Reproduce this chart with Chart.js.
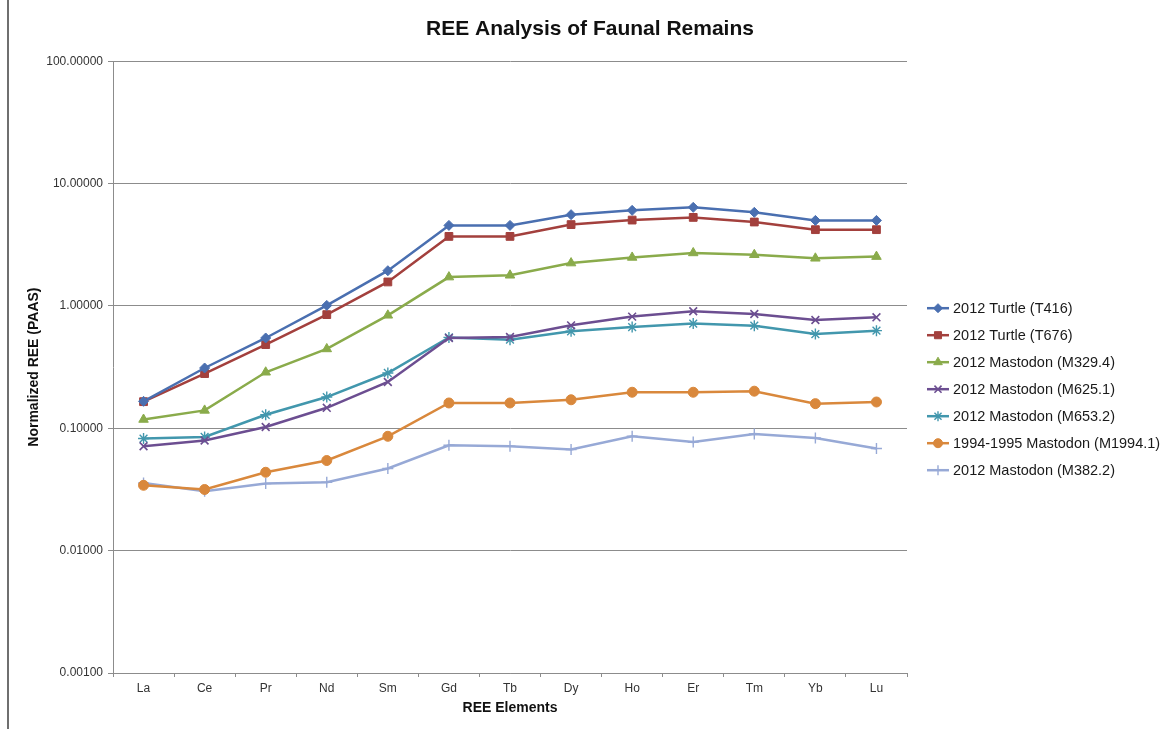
<!DOCTYPE html>
<html>
<head>
<meta charset="utf-8">
<script src="https://cdn.jsdelivr.net/npm/chart.js@4/dist/chart.umd.min.js"></script>
<style>
  html, body { margin: 0; padding: 0; background: #fff; }
  #wrap { position: relative; width: 1168px; height: 729px; }
  #frame { position: absolute; left: 7px; top: 0; width: 2px; height: 729px; background: #6f6f6f; }
</style>
</head>
<body>
<div id="wrap">
  <canvas id="chart" width="1168" height="729"></canvas>
  <div id="frame"></div>
</div>
<script>
// REE elements on the x axis
const elements = ['La', 'Ce', 'Pr', 'Nd', 'Sm', 'Gd', 'Tb', 'Dy', 'Ho', 'Er', 'Tm', 'Yb', 'Lu'];

// decade ticks of the log axis
const yTicks = [0.001, 0.01, 0.1, 1, 10, 100];

// normalized values
const turtleT416    = [0.166, 0.311, 0.547, 1.01, 1.94, 4.55, 4.55, 5.57, 6.04, 6.39, 5.82, 5.00, 5.00];
const turtleT676    = [0.165, 0.280, 0.483, 0.849, 1.57, 3.70, 3.70, 4.62, 5.03, 5.29, 4.85, 4.20, 4.20];
const mastoM3294    = [0.118, 0.140, 0.287, 0.445, 0.838, 1.72, 1.78, 2.24, 2.49, 2.71, 2.62, 2.45, 2.53];
const mastoM6251    = [0.0713, 0.0794, 0.1025, 0.147, 0.239, 0.547, 0.557, 0.694, 0.818, 0.904, 0.859, 0.767, 0.807];
const mastoM6532    = [0.0824, 0.0849, 0.129, 0.180, 0.283, 0.553, 0.530, 0.620, 0.672, 0.717, 0.690, 0.589, 0.628];
const mastoM19941   = [0.0342, 0.0316, 0.0437, 0.0545, 0.086, 0.161, 0.161, 0.171, 0.197, 0.197, 0.201, 0.159, 0.164];
const mastoM3822    = [0.0357, 0.0306, 0.0353, 0.0362, 0.0469, 0.0726, 0.0713, 0.067, 0.086, 0.0773, 0.0898, 0.0833, 0.0683];

const seriesNames = [
    '2012 Turtle (T416)',
    '2012 Turtle (T676)',
    '2012 Mastodon (M329.4)',
    '2012 Mastodon (M625.1)',
    '2012 Mastodon (M653.2)',
    '1994-1995 Mastodon (M1994.1)',
    '2012 Mastodon (M382.2)'
];
const seriesData = [turtleT416, turtleT676, mastoM3294, mastoM6251, mastoM6532, mastoM19941, mastoM3822];
const seriesColors = ['#4a6fb0', '#a3403d', '#8aab4b', '#6c4e91', '#4297ad', '#d9883c', '#97a9d6'];
const seriesMarkers = [
    { style: 'rectRot', radius: 5, border: 1 },
    { style: 'rect', radius: 5.5, border: 1 },
    { style: 'triangle', radius: 5.5, border: 1 },
    { style: 'crossRot', radius: 5.5, border: 1.6 },
    { style: 'star', radius: 5.5, border: 1.4 },
    { style: 'circle', radius: 5, border: 1 },
    { style: 'cross', radius: 5.5, border: 1.4 }
];

const gridColor = '#8c8c8c';

// legend with line + marker, drawn to the right of the plot
const lineLegend = {
    id: 'lineLegend',
    afterDraw(chart) {
        const ctx = chart.ctx;
        const x0 = chart.chartArea.right + 20;
        const y0 = chart.chartArea.top + 247;
        ctx.save();
        seriesNames.forEach((name, i) => {
            const y = y0 + i * 27;
            const m = seriesMarkers[i];
            ctx.strokeStyle = seriesColors[i];
            ctx.lineWidth = 2.5;
            ctx.beginPath();
            ctx.moveTo(x0, y);
            ctx.lineTo(x0 + 22, y);
            ctx.stroke();
            ctx.fillStyle = seriesColors[i];
            ctx.lineWidth = m.border;
            Chart.helpers.drawPoint(ctx, {
                pointStyle: m.style,
                radius: m.radius - 0.5,
                rotation: 0,
                borderWidth: m.border
            }, x0 + 11, y);
            ctx.fillStyle = '#1a1a1a';
            ctx.font = '14.5px "Liberation Sans", Arial, sans-serif';
            ctx.textAlign = 'left';
            ctx.textBaseline = 'middle';
            ctx.fillText(name, x0 + 26, y + 1);
        });
        ctx.restore();
    }
};

const datasets = seriesNames.map((name, i) => ({
    label: name,
    data: seriesData[i],
    borderColor: seriesColors[i],
    backgroundColor: seriesColors[i],
    borderWidth: 2.5,
    pointStyle: seriesMarkers[i].style,
    pointRadius: seriesMarkers[i].radius,
    pointBorderWidth: seriesMarkers[i].border,
    pointBackgroundColor: seriesColors[i],
    pointBorderColor: seriesColors[i],
    tension: 0,
    fill: false
}));

new Chart(document.getElementById('chart'), {
    type: 'line',
    data: { labels: elements, datasets: datasets },
    options: {
        responsive: false,
        animation: false,
        layout: { padding: { left: 12, right: 0, top: 0, bottom: 0 } },
        plugins: {
            legend: { display: false },
            tooltip: { enabled: false },
            title: {
                display: true,
                text: 'REE Analysis of Faunal Remains',
                color: '#111',
                font: { family: '"Liberation Sans", Arial, sans-serif', size: 21, weight: 'bold' },
                padding: { top: 17, bottom: 19 }
            }
        },
        scales: {
            x: {
                type: 'category',
                offset: true,
                grid: {
                    offset: true,
                    drawOnChartArea: false,
                    drawTicks: true,
                    tickLength: 4,
                    color: gridColor
                },
                border: { color: gridColor, width: 1 },
                ticks: {
                    color: '#333',
                    padding: 4,
                    font: { family: '"Liberation Sans", Arial, sans-serif', size: 12 }
                },
                title: {
                    display: true,
                    text: 'REE Elements',
                    color: '#111',
                    font: { family: '"Liberation Sans", Arial, sans-serif', size: 14, weight: 'bold' },
                    padding: { top: 0, bottom: 12.6 }
                },
                afterFit(scale) { scale.height = 56; }
            },
            y: {
                type: 'logarithmic',
                min: 0.001,
                max: 100,
                afterBuildTicks(scale) {
                    scale.ticks = yTicks.map(v => ({ value: v, major: true }));
                },
                grid: {
                    color: gridColor,
                    lineWidth: 1,
                    drawTicks: true,
                    tickLength: 5
                },
                border: { color: gridColor, width: 1 },
                ticks: {
                    color: '#333',
                    padding: 5,
                    font: { family: '"Liberation Sans", Arial, sans-serif', size: 12 },
                    callback: value => Number(value).toFixed(5)
                },
                title: {
                    display: true,
                    text: 'Normalized REE (PAAS)',
                    color: '#111',
                    font: { family: '"Liberation Sans", Arial, sans-serif', size: 14, weight: 'bold' },
                    padding: { top: 13.6, bottom: 0 }
                },
                afterFit(scale) { scale.width = 101; }
            },
            // empty axis that keeps room for the legend
            legendRoom: {
                type: 'linear',
                position: 'right',
                display: true,
                grid: { display: false, drawTicks: false },
                border: { display: false },
                ticks: { display: false },
                afterFit(scale) { scale.width = 261; }
            }
        }
    },
    plugins: [lineLegend]
});
</script>
</body>
</html>
